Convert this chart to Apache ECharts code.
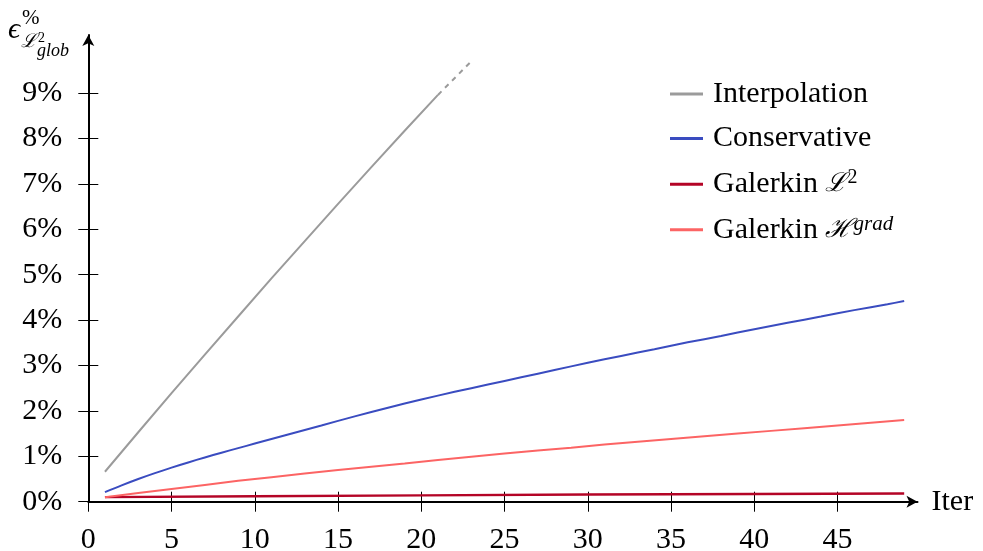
<!DOCTYPE html>
<html>
<head>
<meta charset="utf-8">
<script src="https://cdn.jsdelivr.net/npm/echarts@6/dist/echarts.min.js"></script>
<style>
html,body{margin:0;padding:0;background:#fff;}
#chart{width:983px;height:551px;}
</style>
</head>
<body>
<div id="chart"></div>
<script>
// ---- data ----
const xTicks = [0, 5, 10, 15, 20, 25, 30, 35, 40, 45];
const yTicks = [0, 1, 2, 3, 4, 5, 6, 7, 8, 9];

const interpIter = [1, 3, 5, 7, 9, 11, 13, 15, 17, 19, 21];
const interpVals = [0.66, 1.53, 2.39, 3.24, 4.08, 4.92, 5.74, 6.56, 7.37, 8.17, 8.96];
const interpExtIter = [21, 23];
const interpExtVals = [8.96, 9.70];

const consIter = [1, 2, 3, 4, 5, 6, 7, 8, 9, 10, 12, 14, 16, 18, 20, 22, 24, 26, 28, 30, 32, 34, 36, 38, 40, 42, 44, 46, 48, 49];
const consVals = [0.21, 0.36, 0.50, 0.63, 0.75, 0.865, 0.975, 1.08, 1.18, 1.28, 1.48, 1.68, 1.88, 2.07, 2.25, 2.42, 2.58, 2.74, 2.90, 3.06, 3.21, 3.36, 3.51, 3.65, 3.80, 3.94, 4.08, 4.22, 4.35, 4.42];

const galL2Iter = [1, 10, 20, 30, 40, 49];
const galL2Vals = [0.10, 0.12, 0.14, 0.16, 0.17, 0.18];

const galHIter = [1, 3, 5, 7, 9, 11, 13, 15, 17, 19, 21, 23, 25, 27, 29, 31, 33, 35, 37, 39, 41, 43, 45, 47, 49];
const galHVals = [0.10, 0.19, 0.28, 0.37, 0.46, 0.54, 0.62, 0.70, 0.77, 0.84, 0.92, 0.99, 1.06, 1.13, 1.19, 1.26, 1.32, 1.38, 1.44, 1.50, 1.56, 1.62, 1.68, 1.74, 1.80];

const seriesNames = ['Interpolation', 'Conservative', 'Galerkin ℒ2', 'Galerkin ℋgrad'];
// ---------------------------------------

const pair = (xs, ys) => xs.map((x, i) => [x, ys[i]]);
const FONT = 'Liberation Serif';

const chart = echarts.init(document.getElementById('chart'), null, {renderer: 'canvas'});

const xBase = {
  type: 'value', min: 0, max: 49.8, gridIndex: 0,
  splitLine: {show: false}
};
const yBase = {
  type: 'value', min: 0, max: 10.28, gridIndex: 0,
  splitLine: {show: false}
};

const option = {
  backgroundColor: '#ffffff',
  animation: false,
  grid: {left: 88.3, right: 65.5, top: 35, bottom: 49.3, containLabel: false, outerBoundsMode: 'none'},
  xAxis: [
    Object.assign({}, xBase, {
      position: 'bottom',
      name: 'Iter', nameLocation: 'end', nameGap: 14,
      nameTextStyle: {fontFamily: FONT, fontSize: 30, color: '#000'},
      axisLine: {show: true, onZero: false, symbol: ['none', 'arrow'], symbolSize: [9, 11], symbolOffset: [0, 0],
        lineStyle: {color: '#000', width: 2}},
      axisTick: {show: true, inside: false, length: 10, customValues: xTicks, lineStyle: {color: '#000', width: 1}},
      axisLabel: {show: true, customValues: xTicks, margin: 23, fontFamily: FONT, fontSize: 30, color: '#000'}
    }),
    Object.assign({}, xBase, {
      position: 'bottom',
      axisLine: {show: false, onZero: false},
      axisTick: {show: true, inside: true, length: 10, customValues: xTicks, lineStyle: {color: '#000', width: 1}},
      axisLabel: {show: false}
    })
  ],
  yAxis: [
    Object.assign({}, yBase, {
      position: 'left',
      axisLine: {show: true, onZero: false, symbol: ['none', 'arrow'], symbolSize: [9, 11],
        lineStyle: {color: '#000', width: 2}},
      axisTick: {show: true, inside: false, length: 10, customValues: yTicks, lineStyle: {color: '#000', width: 1}},
      axisLabel: {show: true, customValues: yTicks, margin: 26, fontFamily: FONT, fontSize: 30, color: '#000',
        formatter: v => v + '%'}
    }),
    Object.assign({}, yBase, {
      position: 'left', offset: 0,
      axisLine: {show: false, onZero: false},
      axisTick: {show: true, inside: true, length: 10, customValues: yTicks, lineStyle: {color: '#000', width: 1}},
      axisLabel: {show: false}
    })
  ],
  legend: {
    orient: 'vertical',
    left: 665, top: 74,
    itemWidth: 33, itemHeight: 3, itemGap: 14.6,
    data: seriesNames,
    icon: 'rect',
    formatter: function (name) {
      if (name === seriesNames[2]) return '{n|Galerkin }{s|ℒ}{sup|2}';
      if (name === seriesNames[3]) return '{n|Galerkin }{s|ℋ}{supi|grad}';
      return '{n|' + name + '}';
    },
    textStyle: {
      fontFamily: FONT, fontSize: 30, color: '#000', padding: [0, 0, 0, 5],
      rich: {
        n: {fontFamily: FONT, fontSize: 30, lineHeight: 32, color: '#000'},
        s: {fontFamily: 'DejaVu Serif', fontSize: 26, lineHeight: 32, color: '#000', fontStyle: 'italic'},
        sup: {fontFamily: FONT, fontSize: 20, lineHeight: 20, verticalAlign: 'top', color: '#000'},
        supi: {fontFamily: FONT, fontSize: 21, fontStyle: 'italic', lineHeight: 20, verticalAlign: 'top', color: '#000'}
      }
    }
  },
  graphic: [
    {type: 'text', left: 8, top: 15, style: {text: 'ϵ', font: 'italic 30px "Liberation Serif"', fill: '#000'}},
    {type: 'text', left: 22, top: 8, style: {text: '%', font: '21px "Liberation Serif"', fill: '#000'}},
    {type: 'text', left: 21, top: 33, style: {text: 'ℒ', font: 'italic 19px "DejaVu Serif"', fill: '#000'}},
    {type: 'text', left: 38, top: 31, style: {text: '2', font: '14px "Liberation Serif"', fill: '#000'}},
    {type: 'text', left: 37, top: 42, style: {text: 'glob', font: 'italic 18px "Liberation Serif"', fill: '#000'}}
  ],
  series: [
    {name: seriesNames[0], type: 'line', xAxisIndex: 0, yAxisIndex: 0, data: pair(interpIter, interpVals),
      symbol: 'none', showSymbol: false, color: '#9b9b9b', lineStyle: {color: '#9b9b9b', width: 2}, z: 3},
    {name: 'Interpolation (extrapolated)', type: 'line', xAxisIndex: 0, yAxisIndex: 0, data: pair(interpExtIter, interpExtVals),
      symbol: 'none', showSymbol: false, color: '#9b9b9b', lineStyle: {color: '#9b9b9b', width: 2, type: [5, 5]}, z: 3},
    {name: seriesNames[1], type: 'line', xAxisIndex: 0, yAxisIndex: 0, data: pair(consIter, consVals), smooth: 0.3,
      symbol: 'none', showSymbol: false, color: '#3a4cc0', lineStyle: {color: '#3a4cc0', width: 2}, z: 3},
    {name: seriesNames[2], type: 'line', xAxisIndex: 0, yAxisIndex: 0, data: pair(galL2Iter, galL2Vals),
      symbol: 'none', showSymbol: false, color: '#b40426', lineStyle: {color: '#b40426', width: 2.4}, z: 3},
    {name: seriesNames[3], type: 'line', xAxisIndex: 0, yAxisIndex: 0, data: pair(galHIter, galHVals),
      symbol: 'none', showSymbol: false, color: '#fc6464', lineStyle: {color: '#fc6464', width: 2}, z: 3}
  ]
};
chart.setOption(option);
</script>
</body>
</html>
